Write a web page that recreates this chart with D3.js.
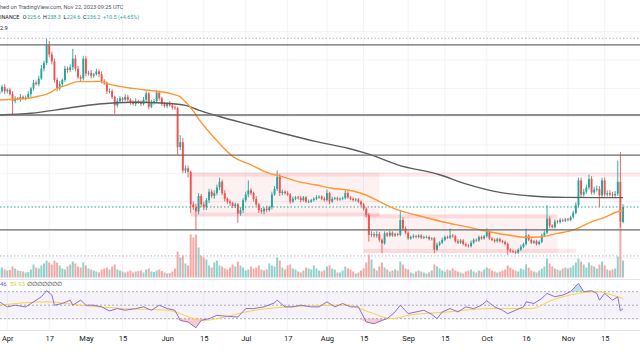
<!DOCTYPE html>
<html><head><meta charset="utf-8">
<script src="https://cdn.jsdelivr.net/npm/d3@7"></script>
<style>html,body{margin:0;padding:0;background:#fff;overflow:hidden}svg{display:block;font-family:Roboto,"Noto Sans",sans-serif}</style>
</head><body><svg id="c" width="640" height="360"></svg>
<script>
// ---------- DATA (BNBUSDT daily) ----------
const startDate = "2023-03-29";
const firstOpen = 316;
const closes = [
318,321,318,319,316,311,313,312.5,314,313,
313.5,316,320,324,323,327,334,338,350.5,344,
339,326,320,323,326,334,333,335,341,334,
328,327,341,330.5,331,329,330,332,330,325,
324,318,318,314,308,311,313,312,314,312,
310,309,311,310,309,312,316.5,307,310,311,
317,313,309,307.5,309,308,306.5,306,278.5,282,
262,263.5,261,238,236,233,244,238,236,241,
247,244,246,250,254,246,242,240,239,237,
238,231.5,234,241,245,248,246,242,238,234,
233,235,234,236,245,249,257.5,246,247,246,
245,240,242,243,242.5,241,243,240,240,241,
242,243,243.5,242,241,246,240,242,242.5,241.5,
242,242.5,246,243,242,241,241.5,240,238,235,
230.5,216.5,217,216,217,213,210.5,217.5,216,218,
216,217,216.5,227,221,218,214,215,215.5,215,
216,214.5,215,215,213.5,214,206,209.5,211,213,
215,214.5,216,215.5,212,211,212.5,210,209,208.5,
211,213,212.5,215,214,215.5,218.5,214,213,212,
213.5,212,211.5,210,206,205,204.5,204,206,208,
210,216,213,211,212,210,211.5,216,218,228,
223,222,226,225.5,227,226.5,227.5,227,229,232,
237.5,255,245,247,250,256,246.5,248.5,249,244.5,
255,245,246,245,244.5,245.5,254,225.6,236.2];
const upperWick = [
2,1.5,2,1,1.5,2,1.5,1,2,1,
1.5,2,1,2,1.5,2,2.5,1.5,4.5,3,
2,2,1.5,2,1,2,1.5,2,7,2.5,
2,1.5,2,2,1.5,2,1,2,1.5,2,
1.5,1,2,1.5,1,2,1.5,1,2,1.5,
1,1.5,2,1,1.5,2,1.5,1,2,1.5,
2,1.5,1,1.5,1,2,1,1.5,1,5,
3,2,2,1,2,2.5,2,1.5,2,1.5,
2,1.5,2,2,3,1.5,2,1,1.5,1,
1.5,1,2,1.5,2,7,1.5,1,2,1,
1.5,1,2,1,2,2,4.5,2,1.5,1,
1.5,1,1.5,1,1,1.5,1,1,1.5,1,
1,1.5,1,1,1.5,2.5,1,1.5,1,1,
1,1,2.5,1.5,1,1,1,1,1,1,
1,1.5,2,1.5,2,1.5,1,1.5,1,1.5,
1,1,1,7,2,1.5,1,1,1.5,1,
1,1,1,1,1,1,1,1.5,1,1.5,
1,1,5,1,1,1.5,1,1,1,1,
1.5,1,1,1,1,1,2.5,1,1,1,
1,1,1,1,1,1,1,1,1,1.5,
1,5,1,1,1,1,1,1.5,1.5,9.5,
1.5,1,1.5,1,1.5,1,1,1,1,1.5,
2,2,2,2,2,3,2,2,2.5,2,
2,2,2,2,2,2,15,21,2.1];
const lowerWick = [
1.5,1,2,1.5,1,10,1.5,1,2,1,
1.5,1,2,1.5,1,1.5,1,2,1.5,2,
2,2,2,1.5,2,1.5,2,1.5,2,2,
1.5,2,1.5,2,1.5,2,1.5,1,2,1.5,
1.5,2,1.5,1.5,6,1.5,1,1.5,1,1.5,
1.5,1,1.5,1,1.5,1,2,1.5,1,1.5,
1,1.5,1.5,1,1.5,1,1.5,1,5.5,2,
2,2,4,6,2,13,2,2,2,2,
2,1.5,2,1.5,2,1.5,2,1.5,2,1.5,
1.5,6.5,1.5,2,1.5,2,1.5,2,1.5,2,
1.5,2,1.5,1,1.5,1,1.5,2,1.5,1,
1,1.5,1,1,1,1.5,1,1,1,1,
1,1,1,1,1,1,2,1,1,1,
1,1,1,1,1,1,1,1,1.5,1.5,
1.5,4.8,1.5,1.5,1.5,1.5,7,1,1,1,
1,1,1,1,1.5,1,1,1,1,1,
1,1,1,1,1,1,2.5,1,1,1,
1,1,1,1,1,1,1,1,1,1,
1,1,1,1,1,1,1,1,1,1,
1,1,1,1,3.7,1,1,1,1,1,
1,1,1,1,1,1,1,1,1,1,
1.5,1,1,1,1,1,1,1,1,1,
1,1.5,2,1.5,1.5,1.5,1.5,1.5,1.5,8.5,
1.5,1.5,1.5,1.5,1.5,1.5,1.5,3.6,1.0];
const volumes = [
900,1000,800,700,750,1100,900,700,650,600,
500,550,800,1300,1000,900,1200,1400,1700,1500,
1300,1700,1500,1200,900,800,1100,1300,1600,1400,
1100,1000,1500,1200,900,800,700,600,500,800,
900,1000,800,1100,1300,800,700,600,500,600,
700,500,600,650,700,500,800,900,600,550,
700,800,650,500,400,450,600,900,2600,2000,
2200,1400,1200,4300,4000,4300,3000,2200,2000,1800,
1200,1000,1500,1700,1200,1100,900,800,1000,1300,
1100,1600,1200,1000,700,800,1100,900,1000,1200,
800,700,800,1400,1200,1100,2000,1700,1000,800,
1200,1300,900,800,600,500,700,1000,900,800,
1200,900,700,600,700,1100,1200,900,800,500,
500,700,1100,900,800,600,400,500,700,900,
1500,2300,1800,900,700,1100,1500,1000,800,600,
700,800,700,1600,1300,900,800,500,400,600,
700,600,500,400,500,700,1300,1100,900,700,
600,800,700,900,700,600,500,400,600,700,
800,600,500,700,600,800,1000,900,700,600,
500,600,700,800,1200,1000,800,700,600,900,
800,1300,1000,700,600,500,700,900,1100,1900,
1400,1100,900,800,700,900,1000,900,1000,1200,
1500,1900,1600,1300,1000,1500,1200,1100,900,1300,
1600,1200,800,700,800,900,2100,5500,1700];

// moving averages read at sample points
const maFastDates = ["03-29","04-09","04-13","04-17","04-20","04-24","04-28","05-03","05-06","05-10","05-19","05-28","06-03","06-06","06-08","06-11","06-13","06-16","06-20","06-26","07-03","07-10","07-15","07-21","07-28","08-03","08-09","08-14","08-20","08-25","08-28","09-04","09-14","09-23","10-02","10-09","10-16","10-21","10-28","11-04","11-09","11-14","11-21","11-22"];
const maFastValues = [311.8,313,314.5,316.6,320,322.5,324.8,324.8,325,322.8,320,318,316,314,310.5,304,298.5,291.5,283,272,266,260,257.6,254.1,251.7,249.4,248.2,245.9,241.1,236.4,234.1,230.5,225.8,222.3,218.7,216.4,214.8,215,217.5,220.5,225,228.2,233.5,234];
const maSlowDates = ["03-29","04-10","04-24","05-06","05-19","06-01","06-08","06-13","06-19","07-03","07-15","07-28","08-09","08-17","08-28","09-13","09-23","10-06","10-18","10-31","11-13","11-22"];
const maSlowValues = [301.2,302.4,306,309,310.2,309.5,308,304.7,301.2,294.1,288.3,282.4,277.7,273.5,266,259,252.5,246.5,244,243,242.8,242.8];

// RSI (14) and its moving average, read at sample points
const rsiDates = ["03-29","04-01","04-04","04-08","04-11","04-14","04-16","04-18","04-19","04-22","04-25","04-26","04-29","05-01","05-04","05-07","05-10","05-13","05-16","05-20","05-23","05-26","05-29","06-01","06-04","06-06","06-09","06-12","06-14","06-17","06-20","06-24","06-28","07-01","07-04","07-08","07-12","07-13","07-16","07-19","07-22","07-26","07-29","08-01","08-04","08-07","08-10","08-13","08-16","08-19","08-22","08-24","08-27","08-29","09-01","09-04","09-07","09-10","09-12","09-14","09-17","09-20","09-23","09-26","09-29","10-01","10-04","10-07","10-09","10-12","10-15","10-16","10-19","10-22","10-24","10-27","10-30","11-02","11-05","11-07","11-10","11-12","11-13","11-15","11-18","11-20","11-21","11-22"];
const rsiValues = [55,47.5,50,47.5,55,62.5,71.5,65,50,52.5,57.5,50,57.5,50,50,47.5,41.5,45,42.5,45,47.5,42.5,50,45,42.5,27.5,25,16.5,27.5,30,35,33.5,32.5,45,45,47.5,53.5,57.5,47.5,47.5,50,47.5,47.5,55,47.5,52.5,47.5,47.5,25,22.5,27.5,30,40,50,37.5,40,42.5,36.5,30,40,45,40,47.5,45,50,56.5,47.5,42.5,37.5,42.5,47.5,55,52.5,60,67.5,62.5,65,70,82.5,70,71.5,67.5,57.5,67.5,57.5,62.5,41.5,45];
const rsiMaDates = ["03-29","04-16","04-29","05-15","06-01","06-15","06-23","07-01","07-17","08-09","08-17","08-26","09-01","09-16","10-02","10-18","10-26","11-05","11-12","11-18","11-22"];
const rsiMaValues = [50,55,50,45,42.5,27.5,32.5,40,47.5,50,40,30,35,40,45,45,57.5,67.5,70,65,60];

// drawn levels and zones
const levels = [350.7, 301.2, 272.9, 220];
const rangeHighLow = [355.4, 201.6];
const lastPrice = 236.2;
const zones = [
  {start:"06-10", end:"08-21", top:260.5, bottom:229.5},
  {start:"08-15", end:"10-28", top:231, bottom:203.7}];
const zoneBands = [
  {start:"06-10", end:"12-31", top:260.5, bottom:257.7},
  {start:"06-10", end:"08-21", top:232.2, bottom:229.5},
  {start:"08-15", end:"10-28", top:231, bottom:228.2},
  {start:"08-15", end:"11-04", top:206.5, bottom:203.7}];

const tickDates = ["04-01","04-17","05-01","05-15","06-01","06-15","07-01","07-17","08-01","08-15","09-01","09-15","10-01","10-16","11-01","11-15"];
const tickLabels = ["Apr","17","May","15","Jun","15","Jul","17","Aug","15","Sep","15","Oct","16","Nov","15"];

// legend values
const ohlcKeys = ["O","H","L","C"];
const ohlcValues = ["225.6","238.3","224.6","236.2"];
const changeText = "+10.5 (+4.65%)";

// ---------- DRAW ----------
const UP = "#26a69a", DOWN = "#ef5350";
const parse = d3.utcParse("%Y-%m-%d");
const md = s => parse("2023-" + s);
const t0 = parse(startDate);
const candles = closes.map((c, i) => {
  const o = i ? closes[i-1] : firstOpen;
  return {date: d3.utcDay.offset(t0, i), o, c,
    h: Math.max(o, c) + upperWick[i], l: Math.min(o, c) - lowerWick[i], v: volumes[i]};
});

const W = 640;
const x = d3.scaleUtc().domain([md("04-01"), md("11-22")]).range([7.3, 623]);
const y = d3.scaleLinear().domain([200, 350]).range([258.2, 45.95]);
const yv = d3.scaleLinear().domain([0, 5500]).range([277.5, 222.5]);
const yr = d3.scaleLinear().domain([30, 70]).range([318.7, 291.7]);

const svg = d3.select("#c");
const defs = svg.append("defs");
defs.append("clipPath").attr("id","main").append("rect").attr("x",0).attr("y",0).attr("width",W).attr("height",279);
defs.append("clipPath").attr("id","rsi").append("rect").attr("x",0).attr("y",280).attr("width",W).attr("height",50);

// grid
const grid = svg.append("g");
grid.selectAll("line.v").data(tickDates).join("line")
  .attr("x1", d => x(md(d))).attr("x2", d => x(md(d))).attr("y1", 0).attr("y2", 331)
  .attr("stroke", "#f0f3fa").attr("stroke-width", 1);
grid.selectAll("line.h").data(d3.range(200, 361, 20)).join("line")
  .attr("x1", 0).attr("x2", W).attr("y1", d => y(d)).attr("y2", d => y(d))
  .attr("stroke", "#f0f3fa").attr("stroke-width", 1);

const main = svg.append("g").attr("clip-path","url(#main)");
// zones
main.selectAll("rect.zone").data(zones).join("rect")
  .attr("x", d => x(md(d.start))).attr("width", d => x(md(d.end)) - x(md(d.start)))
  .attr("y", d => y(d.top)).attr("height", d => y(d.bottom) - y(d.top))
  .attr("fill", "#f23645").attr("fill-opacity", 0.07);
main.selectAll("rect.band").data(zoneBands).join("rect")
  .attr("x", d => x(md(d.start))).attr("width", d => Math.min(x(md(d.end)), W) - x(md(d.start)))
  .attr("y", d => y(d.top)).attr("height", d => y(d.bottom) - y(d.top))
  .attr("fill", "#f23645").attr("fill-opacity", 0.12);

// volume
main.selectAll("rect.vol").data(candles).join("rect")
  .attr("x", d => x(d.date) - 1).attr("width", 2)
  .attr("y", d => yv(d.v)).attr("height", d => yv(0) - yv(d.v))
  .attr("fill", d => d.c >= d.o ? UP : DOWN).attr("fill-opacity", 0.5);

// dotted range lines
main.selectAll("line.hl").data(rangeHighLow).join("line")
  .attr("x1", 0).attr("x2", W).attr("y1", d => y(d)).attr("y2", d => y(d))
  .attr("stroke", "#b2b5be").attr("stroke-dasharray", "1.5,2").attr("stroke-width", 1);
main.append("line").attr("x1", 0).attr("x2", W).attr("y1", y(lastPrice)).attr("y2", y(lastPrice))
  .attr("stroke", UP).attr("stroke-dasharray", "1.5,2").attr("stroke-width", 1);

// candles
const cg = main.append("g");
cg.selectAll("line.w").data(candles).join("line")
  .attr("x1", d => x(d.date)).attr("x2", d => x(d.date))
  .attr("y1", d => y(d.h)).attr("y2", d => y(d.l))
  .attr("stroke", d => d.c >= d.o ? UP : DOWN).attr("stroke-width", 0.9);
cg.selectAll("rect.b").data(candles).join("rect")
  .attr("x", d => x(d.date) - 0.95).attr("width", 1.9)
  .attr("y", d => y(Math.max(d.o, d.c)))
  .attr("height", d => Math.max(0.8, Math.abs(y(d.o) - y(d.c))))
  .attr("fill", d => d.c >= d.o ? UP : DOWN);

// moving averages
const line = d3.line().curve(d3.curveMonotoneX);
main.append("path").attr("d", line(maSlowDates.map((d,i) => [x(md(d)), y(maSlowValues[i])])))
  .attr("fill","none").attr("stroke","#5d5d5d").attr("stroke-width",1.4);
main.append("path").attr("d", line(maFastDates.map((d,i) => [x(md(d)), y(maFastValues[i])])))
  .attr("fill","none").attr("stroke","#ff9830").attr("stroke-width",1.4);

// horizontal levels
main.selectAll("line.lv").data(levels).join("line")
  .attr("x1", 0).attr("x2", W).attr("y1", d => y(d)).attr("y2", d => y(d))
  .attr("stroke", "#6b6b6b").attr("stroke-width", 1.3);

// pane separators
svg.append("line").attr("x1",0).attr("x2",W).attr("y1",279.5).attr("y2",279.5).attr("stroke","#e0e3eb");
svg.append("line").attr("x1",0).attr("x2",W).attr("y1",330.5).attr("y2",330.5).attr("stroke","#e0e3eb");

// RSI pane
const rg = svg.append("g").attr("clip-path","url(#rsi)");
rg.append("rect").attr("x",0).attr("width",W).attr("y",yr(70)).attr("height",yr(30)-yr(70))
  .attr("fill","#7e57c2").attr("fill-opacity",0.08);
rg.selectAll("line.rl").data([70,50,30]).join("line")
  .attr("x1",0).attr("x2",W).attr("y1",d=>yr(d)).attr("y2",d=>yr(d))
  .attr("stroke","#9598a1").attr("stroke-dasharray","2,2").attr("stroke-width",0.8);
const rsiPts = rsiDates.map((d,i) => ({x: x(md(d)), v: rsiValues[i]}));
rg.append("path").attr("d", d3.area().x(d=>d.x).y0(yr(70)).y1(d=>yr(Math.max(70,d.v)))(rsiPts))
  .attr("fill", UP).attr("fill-opacity", 0.3);
rg.append("path").attr("d", d3.area().x(d=>d.x).y0(yr(30)).y1(d=>yr(Math.min(30,d.v)))(rsiPts))
  .attr("fill", DOWN).attr("fill-opacity", 0.3);
rg.append("path").attr("d", d3.line().curve(d3.curveMonotoneX)(rsiMaDates.map((d,i)=>[x(md(d)), yr(rsiMaValues[i])])))
  .attr("fill","none").attr("stroke","#f5d742").attr("stroke-width",1);
rg.append("path").attr("d", d3.line()(rsiPts.map(d=>[d.x, yr(d.v)])))
  .attr("fill","none").attr("stroke","#8e6fd0").attr("stroke-width",1);

// time axis
const ax = svg.append("g").attr("transform","translate(0,332)")
  .call(d3.axisBottom(x).tickValues(tickDates.map(md)).tickFormat((d,i)=>tickLabels[i]).tickSize(0).tickPadding(4));
ax.select(".domain").remove();
ax.selectAll("text").attr("font-size", 7.5).attr("fill", "#131722").attr("font-family","Roboto, sans-serif");

// header texts (as visible in the cropped reference)
const hdr = svg.append("g").attr("fill", "#131722");
hdr.append("text").attr("x", 0).attr("y", 8.5).attr("font-size", 5.6).attr("fill","#50535e")
  .text("hed on TradingView.com, Nov 22, 2023 09:25 UTC");
// legend row laid out sequentially by measured width
let cx = 0;
function put(str, fill, gap) {
  const t = hdr.append("text").attr("x", cx).attr("y", 19).attr("font-size", 5.4).attr("fill", fill).text(str);
  cx += t.node().getComputedTextLength() + gap;
}
put("INANCE", "#131722", 3.5);
ohlcKeys.forEach((k, i) => { put(k, "#131722", 0.4); put(ohlcValues[i], UP, 2.6); });
put(changeText, UP, 0);
hdr.append("text").attr("x", 0).attr("y", 29.5).attr("font-size", 5.6).text("2.9");

const rl = svg.append("g").attr("font-size", 6);
rl.append("text").attr("x", 0).attr("y", 286).attr("fill","#7e57c2").text("46");
rl.append("text").attr("x", 10).attr("y", 286).attr("fill","#e8c53a").text("59.93");
d3.range(7).forEach(i => rl.append("text").attr("x", 27 + i * 5).attr("y", 286).attr("fill","#131722").text("∅"));
</script></body></html>
